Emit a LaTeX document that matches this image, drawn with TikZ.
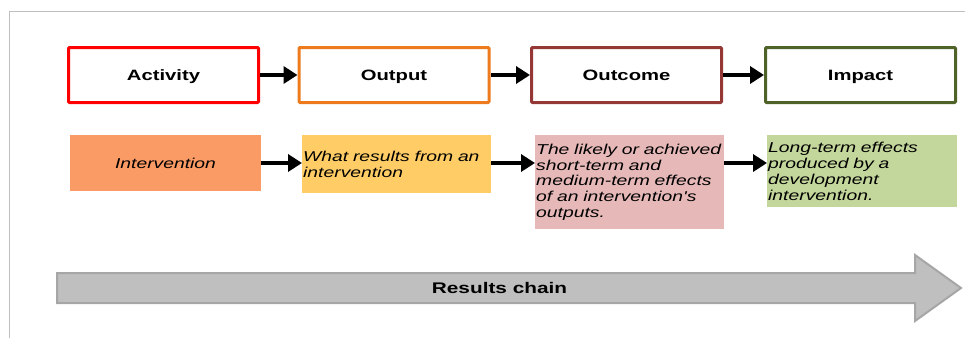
\documentclass[tikz,border=0pt]{standalone}
\usepackage{fontspec}
\newfontfamily\lab{Liberation Sans}[FakeStretch=1.35]
\usetikzlibrary{arrows.meta}
\definecolor{cAct}{HTML}{FF0000}
\definecolor{cOut}{HTML}{EE7A1E}
\definecolor{cOc}{HTML}{953735}
\definecolor{cImp}{HTML}{4F6228}
\definecolor{fAct}{HTML}{FA9A64}
\definecolor{fOut}{HTML}{FFCC66}
\definecolor{fOc}{HTML}{E6B9B8}
\definecolor{fImp}{HTML}{C3D69B}
\definecolor{frame}{HTML}{BFBFBF}
\definecolor{chainfill}{HTML}{BFBFBF}
\definecolor{chainline}{HTML}{A6A6A6}
\tikzset{
  headbox/.style={draw, line width=3pt, rounded corners=1pt, fill=white,
    minimum width=190pt, minimum height=55pt, inner sep=0pt,
    text height=12pt, text depth=2pt,
    font=\lab\fontsize{15}{17}\selectfont\bfseries},
  descbox/.style={inner sep=1pt, align=left, anchor=north west,
    font=\lab\fontsize{14.3}{15.9}\selectfont\itshape},
  flowarrow/.style={line width=4.5pt, -{Triangle[length=14pt,width=17pt]}},
}
\begin{document}
\begin{tikzpicture}[x=1pt,y=-1pt]
\useasboundingbox (0,0) rectangle (965,338);
% frame
\draw[frame, line width=1.5pt] (9.5,338) -- (9.5,11.5) -- (965,11.5);
% top row
\node[headbox, draw=cAct] (act) at (163.5,75) {Activity};
\node[headbox, draw=cOut] (out) at (394,75) {Output};
\node[headbox, draw=cOc] (oc) at (626.5,75) {Outcome};
\node[headbox, draw=cImp] (imp) at (860.5,75) {Impact};
\draw[flowarrow] (act.east) -- (out.west);
\draw[flowarrow] (out.east) -- (oc.west);
\draw[flowarrow] (oc.east) -- (imp.west);
% second row
\node[descbox, fill=fAct, align=center, anchor=center, minimum width=191pt, minimum height=56pt] (d1) at (165.5,163) {Intervention};
\node[descbox, fill=fOut, text width=187pt, minimum height=58pt] (d2) at (302,135) {What results from an\\intervention};
\node[descbox, fill=fOc, text width=187pt, minimum height=94pt] (d3) at (535,135) {The likely or achieved\\short-term and\\medium-term effects\\of an intervention's\\outputs.};
\node[descbox, fill=fImp, text width=188pt, minimum height=72pt] (d4) at (767,135) {Long-term effects\\produced by a\\development\\intervention.};
\draw[flowarrow] (d1.east) -- (d1.east -| d2.west);
\draw[flowarrow] (d1.east -| d2.east) -- (d1.east -| d3.west);
\draw[flowarrow] (d1.east -| d3.east) -- (d1.east -| d4.west);
% results chain
\draw[chainline, fill=chainfill, line width=2pt]
  (57,273) -- (915,273) -- (915,255) -- (961,288) -- (915,321) -- (915,303) -- (57,303) -- cycle;
\node[font=\lab\fontsize{15.4}{17}\selectfont\bfseries] (chain) at (499.5,288) {Results chain};
\end{tikzpicture}
\end{document}
